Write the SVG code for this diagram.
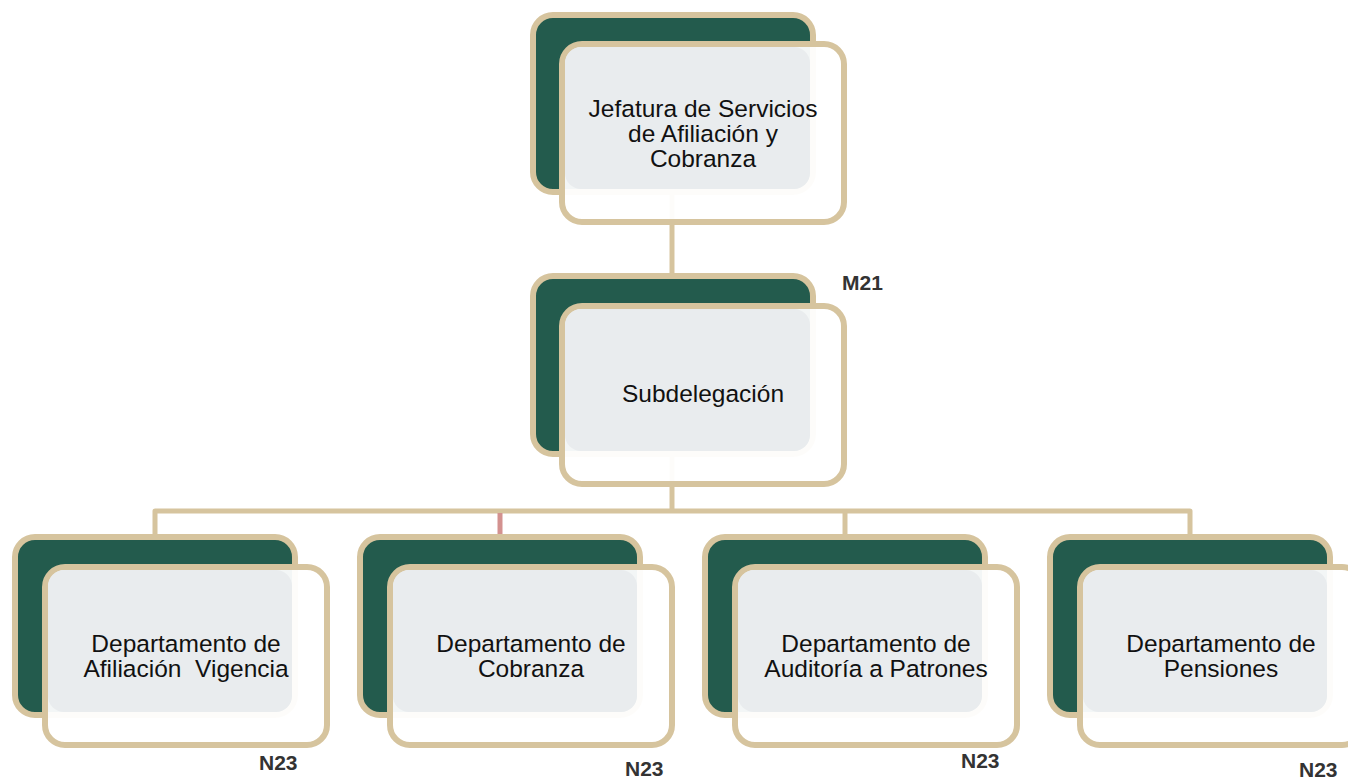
<svg xmlns="http://www.w3.org/2000/svg" width="1348" height="780" viewBox="0 0 1348 780">
<style>
.back{fill:#235b4d;stroke:#d6c49e;stroke-width:6}
.front{fill:#ffffff;fill-opacity:0.95;stroke:#d6c49e;stroke-width:6}
.glass{fill:#e9ecee}
.conn{fill:none;stroke:#d6c49e;stroke-width:5;stroke-linejoin:round}
.pink{fill:none;stroke:#d3918f;stroke-width:5}
.t{font-family:"Liberation Sans",Arial,sans-serif;font-size:24.5px;fill:#111;text-anchor:middle;white-space:pre}
.lbl{font-family:"Liberation Sans",Arial,sans-serif;font-size:21px;font-weight:bold;fill:#333}
</style>
<rect width="1348" height="780" fill="#ffffff"/>
<g id="connectors">
<path class="conn" d="M672 195 V276"/>
<path class="conn" d="M672 457 V511"/>
<path class="conn" d="M155 537 V511 H1190 V537"/>
<path class="conn" d="M845 511 V537"/>
<path class="pink" d="M500 513 V535"/>
</g>
<g id="node-jefatura">
<rect class="back" x="533" y="15" width="280" height="177" rx="20"/>
<rect class="front" x="562" y="44" width="282" height="178" rx="20"/>
<rect class="glass" x="565" y="47" width="245" height="142" rx="16"/>
<text class="t" x="703" y="117">Jefatura de Servicios</text>
<text class="t" x="703" y="142">de Afiliación y</text>
<text class="t" x="703" y="167">Cobranza</text>
</g>
<g id="node-subdelegacion">
<rect class="back" x="533" y="276" width="280" height="178" rx="20"/>
<rect class="front" x="562" y="306" width="282" height="178" rx="20"/>
<rect class="glass" x="565" y="309" width="245" height="142" rx="16"/>
<text class="t" x="703" y="402">Subdelegación</text>
<text class="lbl" x="842" y="290">M21</text>
</g>
<g id="node-afiliacion">
<rect class="back" x="15" y="537" width="280" height="178" rx="20"/>
<rect class="front" x="45" y="567" width="282" height="178" rx="20"/>
<rect class="glass" x="48" y="570" width="244" height="142" rx="16"/>
<text class="t" x="186" y="652">Departamento de</text>
<text class="t" x="186" y="677">Afiliación  Vigencia</text>
<text class="lbl" x="259" y="770">N23</text>
</g>
<g id="node-cobranza">
<rect class="back" x="360" y="537" width="280" height="178" rx="20"/>
<rect class="front" x="390" y="567" width="282" height="178" rx="20"/>
<rect class="glass" x="393" y="570" width="244" height="142" rx="16"/>
<text class="t" x="531" y="652">Departamento de</text>
<text class="t" x="531" y="677">Cobranza</text>
<text class="lbl" x="625" y="776">N23</text>
</g>
<g id="node-auditoria">
<rect class="back" x="705" y="537" width="280" height="178" rx="20"/>
<rect class="front" x="735" y="567" width="282" height="178" rx="20"/>
<rect class="glass" x="738" y="570" width="244" height="142" rx="16"/>
<text class="t" x="876" y="652">Departamento de</text>
<text class="t" x="876" y="677">Auditoría a Patrones</text>
<text class="lbl" x="961" y="768">N23</text>
</g>
<g id="node-pensiones">
<rect class="back" x="1050" y="537" width="280" height="178" rx="20"/>
<rect class="front" x="1080" y="567" width="282" height="178" rx="20"/>
<rect class="glass" x="1083" y="570" width="244" height="142" rx="16"/>
<text class="t" x="1221" y="652">Departamento de</text>
<text class="t" x="1221" y="677">Pensiones</text>
<text class="lbl" x="1299" y="777">N23</text>
</g>
</svg>
